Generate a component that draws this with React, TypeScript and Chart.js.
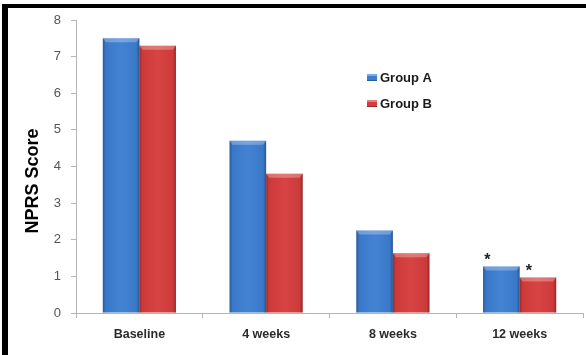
import React, { useEffect, useRef } from "react";
import { Chart, registerables } from "chart.js";

Chart.register(...registerables);

// NPRS scores at each visit
const timepoints = ["Baseline", "4 weeks", "8 weeks", "12 weeks"];
const groupA = [7.5, 4.7, 2.25, 1.27];
const groupB = [7.3, 3.8, 1.63, 0.97];
const seriesNames = ["Group A", "Group B"];
const significanceA = ["", "", "", "*"];
const significanceB = ["", "", "", "*"];
const yTicks = [0, 1, 2, 3, 4, 5, 6, 7, 8];
const yTitle = "NPRS Score";

const BLUE = "rgb(60,125,210)";
const RED = "rgb(214,60,60)";

// Give each bar a soft bevelled look: darker sides and a lighter top cap
const bevelPlugin = {
  id: "bevel",
  afterDatasetsDraw(chart: any) {
    const ctx = chart.ctx;
    chart.data.datasets.forEach((_ds: any, di: number) => {
      const meta = chart.getDatasetMeta(di);
      meta.data.forEach((bar: any) => {
        const { x, y, base, width } = bar.getProps(["x", "y", "base", "width"], true);
        const left = x - width / 2;
        const h = base - y;
        ctx.save();
        const g = ctx.createLinearGradient(left, 0, left + width, 0);
        g.addColorStop(0, "rgba(0,0,0,0.28)");
        g.addColorStop(0.08, "rgba(0,0,0,0.05)");
        g.addColorStop(0.5, "rgba(255,255,255,0.04)");
        g.addColorStop(0.92, "rgba(0,0,0,0.05)");
        g.addColorStop(1, "rgba(0,0,0,0.32)");
        ctx.fillStyle = g;
        ctx.fillRect(left, y, width, h);
        // top cap
        const cap = Math.min(4, h);
        ctx.beginPath();
        ctx.moveTo(left, y);
        ctx.lineTo(left + width, y);
        ctx.lineTo(left + width - 3, y + cap);
        ctx.lineTo(left + 3, y + cap);
        ctx.closePath();
        ctx.fillStyle = "rgba(255,255,255,0.28)";
        ctx.fill();
        ctx.restore();
      });
    });
  },
};

// Significance markers, legend and y-axis title
const annotationsPlugin = {
  id: "annotations",
  beforeDraw(chart: any) {
    const ctx = chart.ctx;
    ctx.save();
    ctx.fillStyle = "#ffffff";
    ctx.fillRect(0, 0, chart.width, chart.height);
    ctx.fillStyle = "#000000";
    ctx.fillRect(2, 4, chart.width - 2, 4);
    ctx.fillRect(2, 4, 6, chart.height - 4);
    ctx.restore();
  },
  afterDraw(chart: any) {
    const ctx = chart.ctx;
    ctx.save();
    // asterisks
    const marks = [significanceA, significanceB];
    ctx.fillStyle = "#222";
    ctx.font = "bold 16px 'Liberation Sans', Arial, sans-serif";
    ctx.textAlign = "center";
    ctx.textBaseline = "alphabetic";
    marks.forEach((arr, di) => {
      const meta = chart.getDatasetMeta(di);
      arr.forEach((m, i) => {
        if (!m) return;
        const bar = meta.data[i];
        const off = di === 0 ? -14 : -9;
        ctx.fillText(m, bar.x + off, bar.y - 1);
      });
    });

    // legend
    const colors = [BLUE, RED];
    const rows = [77.5, 103.5];
    seriesNames.forEach((name, i) => {
      const bx = 367;
      const by = rows[i] - 3.5;
      ctx.fillStyle = colors[i];
      ctx.fillRect(bx, by, 10, 7);
      ctx.fillStyle = "rgba(255,255,255,0.35)";
      ctx.fillRect(bx, by, 10, 2);
      ctx.fillStyle = "rgba(0,0,0,0.25)";
      ctx.fillRect(bx, by + 6, 10, 1);
      ctx.fillStyle = "#1a1a1a";
      ctx.font = "bold 13px 'Liberation Sans', Arial, sans-serif";
      ctx.textAlign = "left";
      ctx.textBaseline = "middle";
      ctx.fillText(name, 380, rows[i] + 0.5);
    });

    // y-axis title
    ctx.translate(33, 181);
    ctx.rotate(-Math.PI / 2);
    ctx.fillStyle = "#000";
    ctx.font = "bold 18px 'Liberation Sans', Arial, sans-serif";
    ctx.textAlign = "center";
    ctx.textBaseline = "middle";
    ctx.fillText(yTitle, 0, 0);
    ctx.restore();
  },
};

export default function App() {
  const canvasRef = useRef<HTMLCanvasElement | null>(null);

  useEffect(() => {
    document.body.style.margin = "0";
    const canvas = canvasRef.current;
    if (!canvas) return;
    const axisColor = "#b4b4b4";
    const chart = new Chart(canvas, {
      type: "bar",
      data: {
        labels: timepoints,
        datasets: [
          { label: seriesNames[0], data: groupA, backgroundColor: BLUE, borderWidth: 0 },
          { label: seriesNames[1], data: groupB, backgroundColor: RED, borderWidth: 0 },
        ],
      },
      plugins: [bevelPlugin, annotationsPlugin],
      options: {
        responsive: false,
        animation: false,
        devicePixelRatio: 1,
        layout: { padding: { left: 0, top: 20, right: 3, bottom: 0 } },
        datasets: {
          bar: { barPercentage: 1, categoryPercentage: 0.577 },
        },
        plugins: {
          legend: { display: false },
          tooltip: { enabled: false },
          title: { display: false },
        },
        scales: {
          x: {
            offset: true,
            grid: {
              offset: true,
              drawOnChartArea: false,
              drawTicks: true,
              tickLength: 5,
              color: axisColor,
            },
            border: { color: axisColor },
            ticks: {
              color: "#2b2b2b",
              padding: 9,
              font: { family: "'Liberation Sans', Arial, sans-serif", size: 12.5, weight: "bold" },
            },
            afterFit(scale: any) {
              scale.height = 42;
            },
          },
          y: {
            min: 0,
            max: 8,
            afterBuildTicks(scale: any) {
              scale.ticks = yTicks.map((v) => ({ value: v }));
            },
            grid: {
              drawOnChartArea: false,
              drawTicks: true,
              tickLength: 5,
              color: axisColor,
            },
            border: { color: axisColor },
            ticks: {
              color: "#555555",
              padding: 10,
              font: { family: "'Liberation Sans', Arial, sans-serif", size: 13 },
            },
            afterFit(scale: any) {
              scale.width = 76;
            },
          },
        },
      },
    } as any);
    return () => chart.destroy();
  }, []);

  return (
    <div style={{ position: "relative", width: 586, height: 355 }}>
      <canvas ref={canvasRef} width={586} height={355} style={{ display: "block", width: 586, height: 355 }} />
    </div>
  );
}
